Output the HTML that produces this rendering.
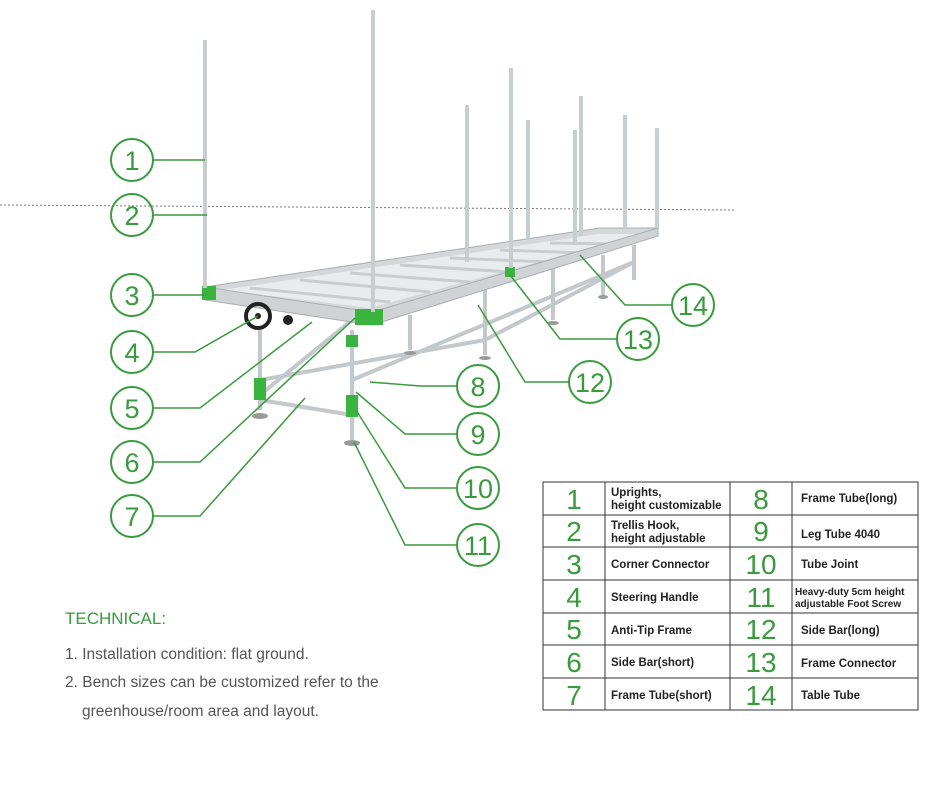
<!DOCTYPE html>
<html><head><meta charset="utf-8"><style>
body{margin:0;background:#fff;width:945px;height:794px;overflow:hidden;font-family:"Liberation Sans",sans-serif}
svg{position:absolute;left:0;top:0}
.c{fill:none;stroke:#3a9a3e;stroke-width:2}
.n{fill:#3a9a3e;font-size:27px;text-anchor:middle;font-family:"Liberation Sans",sans-serif}
.l{stroke:#3a9a3e;stroke-width:1.5;fill:none}
.t{font-size:11.5px;fill:#222;font-weight:bold}
.tn{fill:#3a9a3e;font-size:28px;text-anchor:middle}
.g{fill:#d4d8db;stroke:#a9aeb2;stroke-width:1}
.p{stroke:#c3c8cc;stroke-width:4;fill:none}
</style></head><body>
<svg width="945" height="794">
<line x1="0" y1="205" x2="735" y2="210" stroke="#777" stroke-dasharray="2,2" stroke-width="1"/>
<!-- legs & lower frame -->
<g class="p">
<line x1="260" y1="330" x2="260" y2="410"/><line x1="352" y1="330" x2="352" y2="440"/>
<line x1="410" y1="315" x2="410" y2="350"/><line x1="485" y1="290" x2="485" y2="355"/>
<line x1="553" y1="265" x2="553" y2="320"/><line x1="603" y1="255" x2="603" y2="295"/>
<line x1="634" y1="245" x2="634" y2="280"/>
<line x1="260" y1="400" x2="352" y2="415"/><line x1="352" y1="380" x2="634" y2="262"/>
<line x1="260" y1="380" x2="485" y2="340"/><line x1="485" y1="340" x2="634" y2="262"/>
<line x1="352" y1="320" x2="260" y2="395"/>
</g>
<g fill="#3bb33f"><rect x="254" y="378" width="12" height="22"/><rect x="346" y="395" width="12" height="22"/><rect x="346" y="335" width="12" height="12"/></g>
<g fill="#999"><ellipse cx="260" cy="416" rx="8" ry="3"/><ellipse cx="352" cy="443" rx="8" ry="3"/><ellipse cx="410" cy="353" rx="6" ry="2"/><ellipse cx="485" cy="358" rx="6" ry="2"/><ellipse cx="553" cy="323" rx="6" ry="2"/><ellipse cx="603" cy="297" rx="5" ry="2"/></g>
<!-- top frame -->
<polygon class="g" points="205,287 600,228 658,228 372,318"/>
<polygon fill="#e9ecee" points="222,290 598,234 640,234 370,308"/>
<g stroke="#c8cdd0" stroke-width="3">
<line x1="250" y1="288" x2="390" y2="302"/><line x1="300" y1="280" x2="430" y2="292"/><line x1="350" y1="273" x2="470" y2="282"/><line x1="400" y1="265" x2="510" y2="272"/><line x1="450" y1="258" x2="550" y2="262"/><line x1="500" y1="250" x2="585" y2="253"/><line x1="550" y1="243" x2="620" y2="244"/>
</g>
<polygon fill="#cfd3d6" stroke="#a9aeb2" points="205,287 372,312 372,325 205,300"/>
<polygon fill="#cfd3d6" stroke="#a9aeb2" points="372,312 658,228 658,236 372,325"/>
<g fill="#3bb33f"><rect x="202" y="286" width="14" height="14"/><rect x="355" y="309" width="28" height="16"/><rect x="505" y="267" width="10" height="10"/></g>
<!-- uprights -->
<g stroke="#c8cdd0" stroke-width="4">
<line x1="205" y1="40" x2="205" y2="288"/><line x1="373" y1="10" x2="373" y2="312"/><line x1="467" y1="105" x2="467" y2="262"/><line x1="511" y1="68" x2="511" y2="268"/><line x1="528" y1="120" x2="528" y2="240"/><line x1="575" y1="130" x2="575" y2="245"/><line x1="581" y1="96" x2="581" y2="236"/><line x1="625" y1="115" x2="625" y2="228"/><line x1="657" y1="128" x2="657" y2="228"/>
</g>
<!-- wheel -->
<circle cx="258" cy="316" r="12" fill="none" stroke="#222" stroke-width="4"/><circle cx="258" cy="316" r="3" fill="#222"/>
<circle cx="288" cy="320" r="5" fill="#222"/>
<!-- circles -->
<g>
<circle class="c" cx="132" cy="160" r="21"/><text class="n" x="132" y="170">1</text>
<circle class="c" cx="132" cy="215" r="21"/><text class="n" x="132" y="225">2</text>
<circle class="c" cx="132" cy="295" r="21"/><text class="n" x="132" y="305">3</text>
<circle class="c" cx="132" cy="352" r="21"/><text class="n" x="132" y="362">4</text>
<circle class="c" cx="132" cy="408" r="21"/><text class="n" x="132" y="418">5</text>
<circle class="c" cx="132" cy="462" r="21"/><text class="n" x="132" y="472">6</text>
<circle class="c" cx="132" cy="516" r="21"/><text class="n" x="132" y="526">7</text>
<circle class="c" cx="478" cy="386" r="21"/><text class="n" x="478" y="396">8</text>
<circle class="c" cx="478" cy="434" r="21"/><text class="n" x="478" y="444">9</text>
<circle class="c" cx="478" cy="488" r="21"/><text class="n" x="478" y="498">10</text>
<circle class="c" cx="478" cy="545" r="21"/><text class="n" x="478" y="555">11</text>
<circle class="c" cx="590" cy="382" r="21"/><text class="n" x="590" y="392">12</text>
<circle class="c" cx="638" cy="339" r="21"/><text class="n" x="638" y="349">13</text>
<circle class="c" cx="693" cy="305" r="21"/><text class="n" x="693" y="315">14</text>
</g>
<g class="l">
<polyline points="153,160 205,160"/><polyline points="153,215 207,215"/><polyline points="153,295 205,295"/>
<polyline points="153,352 195,352 258,316"/><polyline points="153,408 200,408 312,322"/>
<polyline points="153,462 200,462 355,318"/><polyline points="153,516 200,516 305,398"/>
<polyline points="457,386 420,386 370,382"/><polyline points="457,434 405,434 356,392"/>
<polyline points="457,488 405,488 356,410"/><polyline points="457,545 405,545 354,442"/>
<polyline points="569,382 525,382 478,305"/><polyline points="617,339 560,339 510,275"/>
<polyline points="672,305 625,305 580,255"/>
</g>
<!-- table -->
<g stroke="#333" stroke-width="1" fill="none">
<rect x="543" y="482" width="375" height="228"/>
<line x1="605" y1="482" x2="605" y2="710"/><line x1="730" y1="482" x2="730" y2="710"/><line x1="792" y1="482" x2="792" y2="710"/>
<line x1="543" y1="515" x2="918" y2="515"/><line x1="543" y1="547" x2="918" y2="547"/><line x1="543" y1="580" x2="918" y2="580"/><line x1="543" y1="613" x2="918" y2="613"/><line x1="543" y1="645" x2="918" y2="645"/><line x1="543" y1="678" x2="918" y2="678"/>
</g>
<g class="tn">
<text x="574" y="509">1</text><text x="574" y="541">2</text><text x="574" y="574">3</text><text x="574" y="607">4</text><text x="574" y="639">5</text><text x="574" y="672">6</text><text x="574" y="705">7</text>
<text x="761" y="509">8</text><text x="761" y="541">9</text><text x="761" y="574">10</text><text x="761" y="607">11</text><text x="761" y="639">12</text><text x="761" y="672">13</text><text x="761" y="705">14</text>
</g>
<g class="t">
<text x="611" y="496">Uprights,</text><text x="611" y="509">height customizable</text>
<text x="611" y="529">Trellis Hook,</text><text x="611" y="542">height adjustable</text>
<text x="611" y="568">Corner Connector</text><text x="611" y="601">Steering Handle</text>
<text x="611" y="634">Anti-Tip Frame</text><text x="611" y="666">Side Bar(short)</text>
<text x="611" y="699">Frame Tube(short)</text>
<text x="801" y="502">Frame Tube(long)</text><text x="801" y="538">Leg Tube 4040</text>
<text x="801" y="568">Tube Joint</text>
<text x="795" y="595" style="font-size:10px">Heavy-duty 5cm height</text><text x="795" y="607" style="font-size:10px">adjustable Foot Screw</text>
<text x="801" y="634">Side Bar(long)</text><text x="801" y="667">Frame Connector</text><text x="801" y="699">Table Tube</text>
</g>
<text x="65" y="624" fill="#3a9a3e" font-size="17">TECHNICAL:</text>
<g fill="#555" font-size="15.5">
<text x="65" y="659">1.  Installation condition: flat ground.</text>
<text x="65" y="687">2. Bench sizes can be customized refer to the</text>
<text x="82" y="716">greenhouse/room area and layout.</text>
</g>
</svg>
</body></html>
